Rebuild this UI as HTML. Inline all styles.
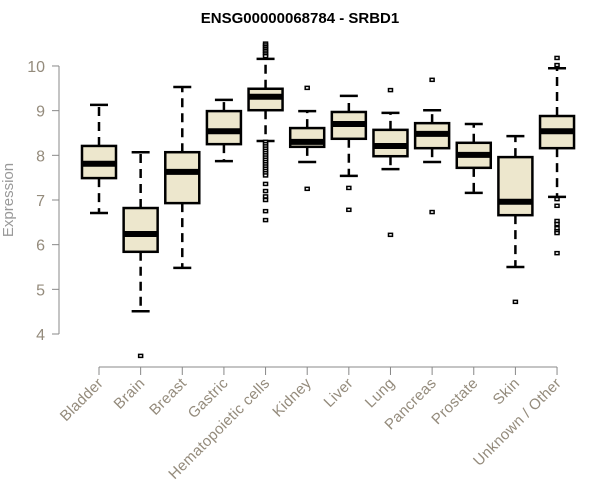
<!DOCTYPE html>
<html><head><meta charset="utf-8"><style>
html,body{margin:0;padding:0;background:#fff;}
svg{display:block;font-family:"Liberation Sans",sans-serif;}
</style></head><body>
<svg id="chart" width="600" height="500">
<text x="300" y="23" text-anchor="middle" font-weight="bold" font-size="15" fill="#000">ENSG00000068784 - SRBD1</text>
<text transform="translate(13,200) rotate(-90)" text-anchor="middle" font-size="15" fill="#999">Expression</text>
<g id="yaxis"></g>
<g id="xaxis"></g>
<g id="boxes"></g>
</svg>
<script>
const categories=["Bladder","Brain","Breast","Gastric","Hematopoietic cells","Kidney","Liver","Lung","Pancreas","Prostate","Skin","Unknown / Other"];
const whiskerLow=[6.71,4.51,5.48,7.87,8.32,7.85,7.54,7.69,7.85,7.16,5.50,7.07];
const q1=[7.49,5.84,6.93,8.25,9.01,8.19,8.37,7.98,8.16,7.72,6.66,8.16];
const median=[7.81,6.24,7.63,8.54,9.31,8.30,8.70,8.21,8.48,8.01,6.96,8.54];
const q3=[8.21,6.82,8.07,8.99,9.49,8.61,8.97,8.57,8.72,8.28,7.96,8.88];
const whiskerHigh=[9.13,8.07,9.53,9.24,10.16,8.99,9.33,8.95,9.01,8.70,8.43,9.95];
const outliers=[[],[3.51],[],[],[10.5,10.46,10.42,10.38,10.34,10.3,10.26,10.22,8.3,8.25,8.2,8.15,8.1,8.05,8.0,7.95,7.9,7.85,7.8,7.75,7.7,7.65,7.6,7.55,7.36,7.2,7.08,7.0,6.75,6.55],[9.51,7.25],[7.27,6.78],[9.46,6.22],[9.69,6.73],[],[4.72],[10.18,10.02,7.02,6.87,6.53,6.46,6.37,6.3,6.26,5.81]];
const yTicks=[4,5,6,7,8,9,10];
const NS="http://www.w3.org/2000/svg";
function y(v){return 334-(v-4)*44.67;}
function x(i){return 99+i*41.64;}
function mk(parent,tag,attrs){const e=document.createElementNS(NS,tag);for(const k in attrs)e.setAttribute(k,attrs[k]);parent.appendChild(e);return e;}
const ya=document.getElementById('yaxis'),xa=document.getElementById('xaxis'),bx=document.getElementById('boxes');
mk(ya,'line',{x1:59,x2:59,y1:y(4),y2:y(10),stroke:'#888','stroke-width':1});
yTicks.forEach(t=>{
  const l=mk(ya,'line',{x1:52,x2:59,y1:y(t),y2:y(t),stroke:'#888'});
  
  
  const tx=mk(ya,'text',{x:45,y:y(t)+6,'text-anchor':'end','font-size':16,fill:'#948b7c'});
  tx.textContent=t;
  
  
});
mk(xa,'line',{x1:x(0),x2:x(categories.length-1),y1:367,y2:367,stroke:'#888'});
categories.forEach((c,i)=>{
  const l=mk(xa,'line',{x1:x(i),x2:x(i),y1:367,y2:375,stroke:'#888'});
  
  
  const tx=mk(xa,'text',{transform:`translate(${x(i)+5},384) rotate(-45)`,'text-anchor':'end','font-size':15,'letter-spacing':'0.3',fill:'#948b7c'});
  tx.textContent=c;
  
  
});
categories.forEach((c,i)=>{
  const g=mk(bx,'g',{});
  
  
  const cx=x(i),hw=17,cw=9;
  mk(g,'line',{x1:cx,x2:cx,y1:y(q3[i]),y2:y(whiskerHigh[i]),stroke:'#000','stroke-width':2.5,'stroke-dasharray':'9,6'});
  mk(g,'line',{x1:cx,x2:cx,y1:y(q1[i]),y2:y(whiskerLow[i]),stroke:'#000','stroke-width':2.5,'stroke-dasharray':'9,6'});
  mk(g,'line',{x1:cx-cw,x2:cx+cw,y1:y(whiskerHigh[i]),y2:y(whiskerHigh[i]),stroke:'#000','stroke-width':2.5});
  mk(g,'line',{x1:cx-cw,x2:cx+cw,y1:y(whiskerLow[i]),y2:y(whiskerLow[i]),stroke:'#000','stroke-width':2.5});
  mk(g,'rect',{x:cx-hw,y:y(q3[i]),width:hw*2,height:y(q1[i])-y(q3[i]),fill:'#ede7cd',stroke:'#000','stroke-width':2.5});
  mk(g,'line',{x1:cx-hw,x2:cx+hw,y1:y(median[i]),y2:y(median[i]),stroke:'#000','stroke-width':6});
  outliers[i].forEach(v=>{
    const p=mk(g,'rect',{x:cx-2,y:y(v)-1.5,width:4,height:3,fill:'#fff',stroke:'#000','stroke-width':1.5});
    
    
  });
});
</script>
</body></html>
